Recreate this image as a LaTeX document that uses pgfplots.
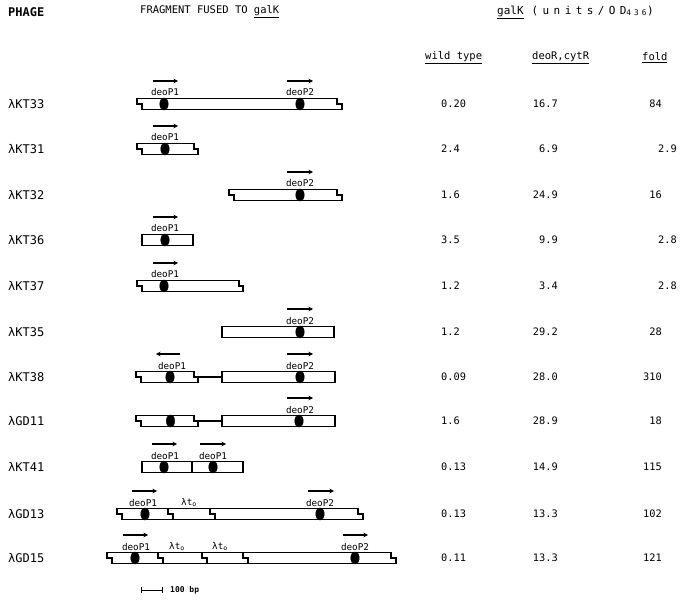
\documentclass[border=0pt]{standalone}
\usepackage{pgfplots}
\pgfplotsset{compat=1.18}
\usepackage{fontspec}
\setmainfont{DejaVu Sans Mono}
\newfontfamily\widemono[LetterSpace=40]{DejaVu Sans Mono}
\usetikzlibrary{arrows.meta}
\tikzset{
  bx/.style={black, line width=1.1pt, line join=miter},
  ar/.style={black, line width=1.1pt, -{Stealth[length=4.5pt,width=4.5pt]}},
  hd/.style={anchor=west, inner sep=0pt, font=\fontsize{10.5}{12}\selectfont},
  rl/.style={anchor=west, inner sep=0pt, font=\fontsize{12}{13}\selectfont},
  vw/.style={anchor=west, inner sep=0pt, font=\fontsize{10.3}{12}\selectfont},
  ve/.style={anchor=east, inner sep=0pt, font=\fontsize{10.3}{12}\selectfont},
  pl/.style={inner sep=0pt, font=\fontsize{9.3}{11}\selectfont},
}
\begin{document}
\begin{tikzpicture}
\begin{axis}[
  x=1pt, y=1pt, y dir=reverse,
  xmin=0, xmax=681, ymin=0, ymax=601,
  hide axis, clip=false,
  dt/.style={only marks, mark=*, mark size=4.5pt, black, mark options={xscale=0.95, yscale=1.35}},
]
% ---------- headers
\node[hd, font=\fontsize{12}{13}\selectfont\bfseries] at (8,12) {PHAGE};
\node[hd] at (140,12) {FRAGMENT FUSED TO \underline{galK}};
\node[hd, font=\fontsize{11}{12}\selectfont] at (497,12) {\underline{galK}\hspace{8pt}{\widemono (units/OD\textsubscript{436})}};
\node[hd] at (425,58) {\underline{wild type}};
\node[hd] at (532,58) {\underline{deoR,cytR}};
\node[hd] at (642,58) {\underline{fold}};
% ---------- row labels
\node[rl] at (8,104) {λKT33};
\node[rl] at (8,149) {λKT31};
\node[rl] at (8,195) {λKT32};
\node[rl] at (8,240) {λKT36};
\node[rl] at (8,286) {λKT37};
\node[rl] at (8,332) {λKT35};
\node[rl] at (8,377) {λKT38};
\node[rl] at (8,421) {λGD11};
\node[rl] at (8,467) {λKT41};
\node[rl] at (8,514) {λGD13};
\node[rl] at (8,558) {λGD15};
% ---------- values: wild type
\node[vw] at (441,104) {0.20};
\node[vw] at (441,149) {2.4};
\node[vw] at (441,195) {1.6};
\node[vw] at (441,240) {3.5};
\node[vw] at (441,286) {1.2};
\node[vw] at (441,332) {1.2};
\node[vw] at (441,377) {0.09};
\node[vw] at (441,421) {1.6};
\node[vw] at (441,467) {0.13};
\node[vw] at (441,514) {0.13};
\node[vw] at (441,558) {0.11};
% ---------- values: deoR,cytR
\node[ve] at (558,104) {16.7};
\node[ve] at (558,149) {6.9};
\node[ve] at (558,195) {24.9};
\node[ve] at (558,240) {9.9};
\node[ve] at (558,286) {3.4};
\node[ve] at (558,332) {29.2};
\node[ve] at (558,377) {28.0};
\node[ve] at (558,421) {28.9};
\node[ve] at (558,467) {14.9};
\node[ve] at (558,514) {13.3};
\node[ve] at (558,558) {13.3};
% ---------- values: fold
\node[ve] at (662,104) {84};
\node[ve] at (677,149) {2.9};
\node[ve] at (662,195) {16};
\node[ve] at (677,240) {2.8};
\node[ve] at (677,286) {2.8};
\node[ve] at (662,332) {28};
\node[ve] at (662,377) {310};
\node[ve] at (662,421) {18};
\node[ve] at (662,467) {115};
\node[ve] at (662,514) {102};
\node[ve] at (662,558) {121};
% ---------- boxes
% KT33
\addplot[bx] coordinates {(137,98.5) (337,98.5) (337,104) (342,104) (342,109.5) (142,109.5) (142,104) (137,104) (137,98.5)};
% KT31
\addplot[bx] coordinates {(137,143.5) (194,143.5) (194,149) (198,149) (198,154.5) (142,154.5) (142,149) (137,149) (137,143.5)};
% KT32
\addplot[bx] coordinates {(229,189.5) (337,189.5) (337,195) (342,195) (342,200.5) (234,200.5) (234,195) (229,195) (229,189.5)};
% KT36
\addplot[bx] coordinates {(142,234.5) (193,234.5) (193,245.5) (142,245.5) (142,234.5)};
% KT37
\addplot[bx] coordinates {(137,280.5) (239,280.5) (239,286) (243,286) (243,291.5) (142,291.5) (142,286) (137,286) (137,280.5)};
% KT35
\addplot[bx] coordinates {(222,326.5) (334,326.5) (334,337.5) (222,337.5) (222,326.5)};
% KT38
\addplot[bx] coordinates {(136,371.5) (194,371.5) (194,377) (198,377) (198,382.5) (141,382.5) (141,377) (136,377) (136,371.5)};
\addplot[bx] coordinates {(198,377) (222,377)};
\addplot[bx] coordinates {(222,371.5) (335,371.5) (335,382.5) (222,382.5) (222,371.5)};
% GD11
\addplot[bx] coordinates {(136,415.5) (169,415.5) (169,426.5) (141,426.5) (141,421) (136,421) (136,415.5)};
\addplot[bx] coordinates {(172,415.5) (194,415.5) (194,421) (198,421) (198,426.5) (172,426.5) (172,415.5)};
\addplot[bx] coordinates {(198,421) (222,421)};
\addplot[bx] coordinates {(222,415.5) (335,415.5) (335,426.5) (222,426.5) (222,415.5)};
% KT41
\addplot[bx] coordinates {(142,461.5) (243,461.5) (243,472.5) (142,472.5) (142,461.5)};
\addplot[bx] coordinates {(192,461.5) (192,472.5)};
% GD13
\addplot[bx] coordinates {(117,508.5) (358,508.5) (358,514) (363,514) (363,519.5) (122,519.5) (122,514) (117,514) (117,508.5)};
\addplot[bx] coordinates {(168,508.5) (168,514) (173,514) (173,519.5)};
\addplot[bx] coordinates {(210,508.5) (210,514) (215,514) (215,519.5)};
% GD15
\addplot[bx] coordinates {(107,552.5) (391,552.5) (391,558) (396,558) (396,563.5) (112,563.5) (112,558) (107,558) (107,552.5)};
\addplot[bx] coordinates {(158,552.5) (158,558) (163,558) (163,563.5)};
\addplot[bx] coordinates {(202,552.5) (202,558) (207,558) (207,563.5)};
\addplot[bx] coordinates {(243,552.5) (243,558) (248,558) (248,563.5)};
% ---------- promoter dots
\addplot[dt] coordinates {(164,104) (300,104) (165,149) (300,195) (165,240) (164,286) (300,332) (170,377) (300,377) (170.5,421) (299,421) (164,467) (213,467) (145,514) (320,514) (135,558) (355,558)};
% ---------- arrows
\addplot[ar] coordinates {(153,81) (178,81)};
\addplot[ar] coordinates {(287,81) (313,81)};
\addplot[ar] coordinates {(153,126) (178,126)};
\addplot[ar] coordinates {(287,172) (313,172)};
\addplot[ar] coordinates {(153,217) (178,217)};
\addplot[ar] coordinates {(153,263) (178,263)};
\addplot[ar] coordinates {(287,309) (313,309)};
\addplot[ar] coordinates {(180,354) (156,354)};
\addplot[ar] coordinates {(287,354) (313,354)};
\addplot[ar] coordinates {(287,398) (313,398)};
\addplot[ar] coordinates {(152,444) (177,444)};
\addplot[ar] coordinates {(200,444) (226,444)};
\addplot[ar] coordinates {(132,491) (157,491)};
\addplot[ar] coordinates {(308,491) (334,491)};
\addplot[ar] coordinates {(123,535) (148,535)};
\addplot[ar] coordinates {(343,535) (368,535)};
% ---------- labels
\node[pl] at (165,92) {deoP1};
\node[pl] at (300,92) {deoP2};
\node[pl] at (165,137) {deoP1};
\node[pl] at (300,183) {deoP2};
\node[pl] at (165,228) {deoP1};
\node[pl] at (165,274) {deoP1};
\node[pl] at (300,321) {deoP2};
\node[pl] at (172,366) {deoP1};
\node[pl] at (300,366) {deoP2};
\node[pl] at (300,410) {deoP2};
\node[pl] at (165,456) {deoP1};
\node[pl] at (213,456) {deoP1};
\node[pl] at (143,503) {deoP1};
\node[pl] at (320,503) {deoP2};
\node[pl] at (136,547) {deoP1};
\node[pl] at (355,547) {deoP2};
\node[pl] at (189,503) {λt\textsubscript{o}};
\node[pl] at (177,547) {λt\textsubscript{o}};
\node[pl] at (220,547) {λt\textsubscript{o}};
% ---------- scale bar
\addplot[black, line width=0.9pt, {|-|}] coordinates {(141,590) (163,590)};
\node[anchor=west, inner sep=0pt, font=\fontsize{8}{9}\selectfont\bfseries] at (170,590) {100 bp};
\end{axis}
\pgfresetboundingbox
\path (0,0) rectangle (681pt,601pt);
\end{tikzpicture}
\end{document}
